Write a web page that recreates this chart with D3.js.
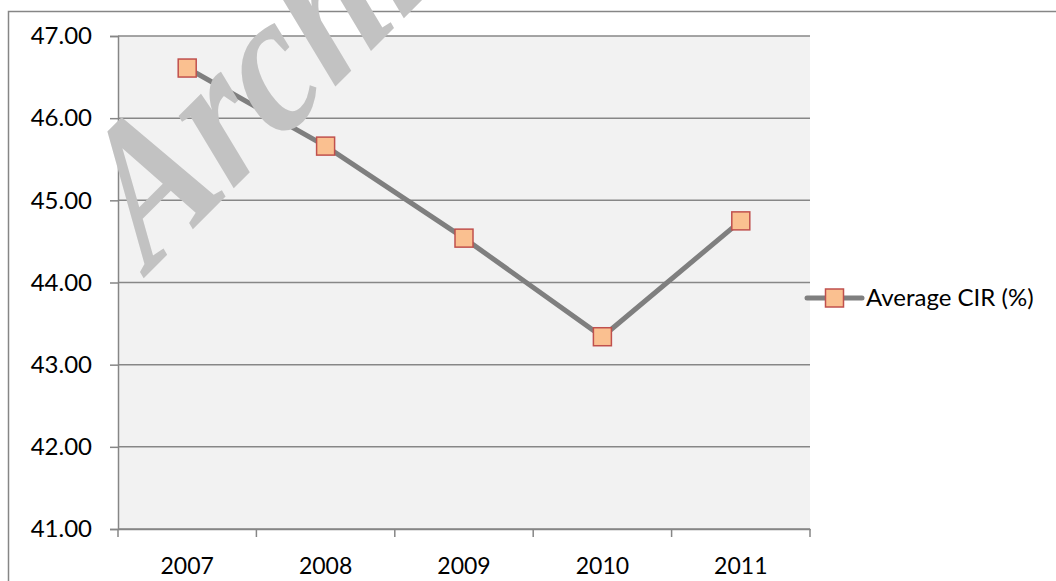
<!DOCTYPE html>
<html>
<head>
<meta charset="utf-8">
<script src="https://cdn.jsdelivr.net/npm/d3@7"></script>
<style>
  html, body { margin: 0; padding: 0; background: #fff; }
  svg { display: block; }
</style>
</head>
<body>
<div id="chart"></div>
<script>
const years = ['2007', '2008', '2009', '2010', '2011'];
const avgCir = [46.61, 45.66, 44.54, 43.34, 44.75];
const yTicks = [41, 42, 43, 44, 45, 46, 47];
const seriesName = 'Average CIR (%)';

const W = 1056, H = 581;
const margin = { top: 36, right: 246, bottom: 52, left: 118 };
const width = W - margin.left - margin.right;
const height = H - margin.top - margin.bottom;
const font = 'Lato, "Open Sans", sans-serif';

const svg = d3.select('#chart').append('svg')
  .attr('width', W)
  .attr('height', H);

// outer chart frame (runs off the right and bottom edges)
svg.append('rect')
  .attr('x', 8.5).attr('y', 11.5)
  .attr('width', W + 20).attr('height', H + 20)
  .attr('fill', 'none')
  .attr('stroke', '#868686')
  .attr('stroke-width', 1.5);

const g = svg.append('g')
  .attr('transform', `translate(${margin.left},${margin.top})`);

const x = d3.scaleBand().domain(years).range([0, width]);
const y = d3.scaleLinear().domain([41, 47]).range([height, 0]);

// plot background
g.append('rect')
  .attr('width', width).attr('height', height)
  .attr('fill', '#f2f2f2');

// gridlines
g.append('g')
  .selectAll('line')
  .data(yTicks)
  .join('line')
  .attr('x1', 0).attr('x2', width)
  .attr('y1', d => y(d)).attr('y2', d => y(d))
  .attr('stroke', '#878787')
  .attr('stroke-width', 1.5);

// y axis
const yAxis = g.append('g')
  .call(d3.axisLeft(y).tickValues(yTicks).tickSize(8).tickPadding(18).tickFormat(d3.format('.2f')));
yAxis.select('.domain').attr('stroke', '#868686').attr('stroke-width', 1.5);
yAxis.selectAll('.tick line').attr('stroke', '#868686').attr('stroke-width', 1.5);
yAxis.selectAll('text')
  .attr('fill', '#000')
  .style('font-family', font)
  .style('font-size', '24px');

// x axis with ticks on category boundaries
const xAxis = g.append('g')
  .attr('transform', `translate(0,${height})`)
  .call(d3.axisBottom(x).tickSize(0).tickPadding(29));
xAxis.select('.domain').attr('stroke', '#868686').attr('stroke-width', 1.5);
xAxis.selectAll('text')
  .attr('fill', '#000')
  .style('font-family', font)
  .style('font-size', '23px');
xAxis.append('g')
  .selectAll('line')
  .data(years.map(d => x(d)).concat([width]))
  .join('line')
  .attr('x1', d => d).attr('x2', d => d)
  .attr('y1', 0).attr('y2', 8)
  .attr('stroke', '#868686')
  .attr('stroke-width', 1.5);

// watermark
svg.append('text')
  .attr('transform', 'translate(150,272) rotate(-45) scale(0.88,1) skewX(-6)')
  .attr('fill', '#c2c2c2')
  .style('font-family', '"Liberation Serif", "DejaVu Serif", serif')
  .style('font-style', 'italic')
  .style('font-weight', 'bold')
  .style('font-size', '196px')
  .text('Archive of SID');

// series line
const line = d3.line()
  .x((d, i) => x(years[i]) + x.bandwidth() / 2)
  .y(d => y(d));

g.append('path')
  .datum(avgCir)
  .attr('fill', 'none')
  .attr('stroke', '#7f7f7f')
  .attr('stroke-width', 5)
  .attr('d', line);

const mk = 18;
g.selectAll('.marker')
  .data(avgCir)
  .join('rect')
  .attr('class', 'marker')
  .attr('x', (d, i) => x(years[i]) + x.bandwidth() / 2 - mk / 2)
  .attr('y', d => y(d) - mk / 2)
  .attr('width', mk).attr('height', mk)
  .attr('fill', '#fac090')
  .attr('stroke', '#c0504d')
  .attr('stroke-width', 1.5);

// legend
const legend = svg.append('g')
  .attr('transform', `translate(${margin.left + width - 3}, 298)`);
legend.append('line')
  .attr('x1', 0).attr('x2', 55)
  .attr('stroke', '#7f7f7f')
  .attr('stroke-width', 5)
  .attr('stroke-linecap', 'round');
legend.append('rect')
  .attr('x', 27.5 - mk / 2).attr('y', -mk / 2)
  .attr('width', mk).attr('height', mk)
  .attr('fill', '#fac090')
  .attr('stroke', '#c0504d')
  .attr('stroke-width', 1.5);
legend.append('text')
  .attr('x', 59)
  .attr('dy', '0.35em')
  .attr('fill', '#000')
  .style('font-family', font)
  .style('font-size', '24px')
  .text(seriesName);
</script>
</body>
</html>
